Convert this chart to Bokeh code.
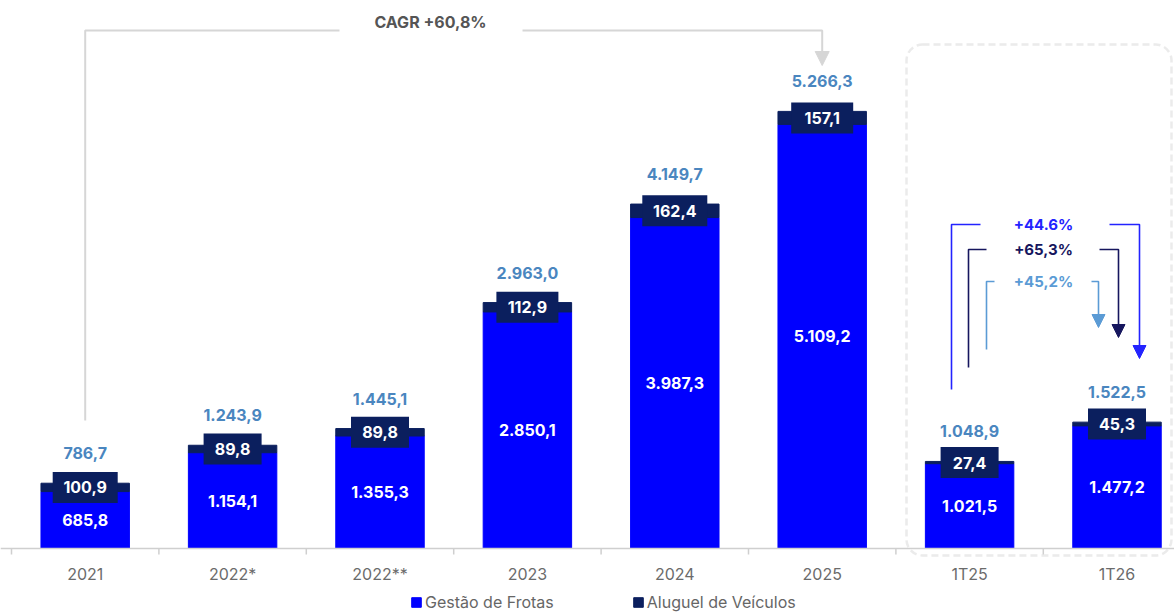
from bokeh.plotting import figure
from bokeh.models import (ColumnDataSource, Range1d, Legend, LegendItem, Span,
                          BoxAnnotation, Arrow, NormalHead)
from bokeh.embed import file_html
from bokeh.resources import INLINE
from bokeh.core.properties import value

# ---------------- data ----------------
categories = ["2021", "2022*", "2022**", "2023", "2024", "2025", "1T25", "1T26"]
gestao = [685.8, 1154.1, 1355.3, 2850.1, 3987.3, 5109.2, 1021.5, 1477.2]
aluguel = [100.9, 89.8, 89.8, 112.9, 162.4, 157.1, 27.4, 45.3]
totais = [786.7, 1243.9, 1445.1, 2963.0, 4149.7, 5266.3, 1048.9, 1522.5]
series_names = ["Gestão de Frotas", "Aluguel de Veículos"]
cagr_label = "CAGR +60,8%"
var_labels = ["+44.6%", "+65,3%", "+45,2%"]   # Gestão, Aluguel, Total (1T26 vs 1T25)

# ---------------- style ----------------
FONT = "Inter"
BLUE = "#0000ff"
NAVY = "#0b1f5e"
TOTAL_C = "#4a86bf"
GRAY_LINE = "#d6d6d6"
AXIS_C = "#cfcfcf"
VAR_COLORS = ["#2323ff", "#16165e", "#5b9bd5"]

def br(v):
    s = "{:,.1f}".format(v)
    return s.replace(",", "X").replace(".", ",").replace("X", ".")

def text_w(s):
    w = 0
    for ch in s:
        w += 7 if ch == "1" else (4 if ch in ",." else 10)
    return w + 24

n = len(categories)
xs = [i + 0.5 for i in range(n)]
src = ColumnDataSource(dict(
    x=xs, gestao=gestao, aluguel=aluguel, total=totais,
    zero=[0] * n,
    mid_g=[g / 2 for g in gestao],
    mid_a=[g + a / 2 for g, a in zip(gestao, aluguel)],
    g_lbl=[br(v) for v in gestao],
    a_lbl=[br(v) for v in aluguel],
    t_lbl=[br(v) for v in totais],
    cat=categories,
    box_w=[text_w(br(v)) for v in aluguel],
))

W, H = 1174, 612
STEP = 147.4          # px per category
PXU = 0.083           # px per data unit
X_LEFT = 11           # px position of category boundary 0
Y_BASE = 548          # px position of value 0

def dx(px):
    return (px - X_LEFT) / STEP

def dy(py):
    return (Y_BASE - py) / PXU

p = figure(width=W, height=H,
           x_range=Range1d(dx(0), dx(W)), y_range=Range1d(dy(H), dy(0)),
           output_backend="svg", toolbar_location=None,
           x_axis_location=None, y_axis_location=None,
           min_border_left=0, min_border_right=0, min_border_top=0, min_border_bottom=0)
p.outline_line_color = None
p.grid.visible = False
p.background_fill_color = "white"

# dashed rounded box around quarterly figures
p.add_layout(BoxAnnotation(left=dx(906), right=dx(1171), top=dy(44), bottom=dy(555),
                           fill_alpha=0, line_color="#bdbdbd", line_width=2.5,
                           line_dash="7 4", border_radius=16, level="underlay"))

# category axis (baseline, boundary ticks, labels)
p.add_layout(Span(location=0, dimension="width", line_color=AXIS_C, line_width=1.5))
bounds = list(range(n + 1))
p.segment(x0=bounds, y0=[0] * len(bounds), x1=bounds, y1=[dy(Y_BASE + 6)] * len(bounds),
          line_color=AXIS_C, line_width=1.5)
p.text(x="x", y="zero", text="cat", y_offset=25, text_align="center",
       text_baseline="middle", text_font=value(FONT), text_font_size="16px",
       text_color="#6b6b6b", source=src)

# stacked bars
rs = p.vbar_stack(["gestao", "aluguel"], x="x", width=0.6, color=[BLUE, NAVY], source=src)

# navy label boxes for Aluguel
p.rect(x="x", y="mid_a", width="box_w", height=31, width_units="screen",
       height_units="screen", fill_color=NAVY, line_color=None, source=src)

common = dict(text_align="center", text_baseline="middle", text_font=value(FONT),
              text_font_style="bold", text_font_size="16px")
p.text(x="x", y="mid_a", text="a_lbl", text_color="white", source=src, **common)
p.text(x="x", y="mid_g", text="g_lbl", text_color="white", source=src, **common)
p.text(x="x", y="total", text="t_lbl", text_color=TOTAL_C, y_offset=-30, source=src, **common)

# CAGR bracket
p.line([xs[0], xs[0], dx(339)], [dy(420), dy(30), dy(30)], line_color=GRAY_LINE, line_width=2)
p.line([dx(522), xs[5], xs[5]], [dy(30), dy(30), dy(52)], line_color=GRAY_LINE, line_width=2)
p.add_layout(Arrow(end=NormalHead(size=14, fill_color=GRAY_LINE, line_color=GRAY_LINE),
                   x_start=xs[5], y_start=dy(52), x_end=xs[5], y_end=dy(65),
                   line_color=GRAY_LINE, line_width=2))
p.text(x=[dx(430)], y=[dy(21)], text=[cagr_label], text_color="#555555",
       text_align="center", text_baseline="middle", text_font=value(FONT),
       text_font_style="bold", text_font_size="16px")

# quarterly variation brackets
brackets = [
    # left_x, bottom_y, top_y, left_end, right_start, right_x, tip_y
    (951, 389, 224, 980, 1109, 1139, 358),
    (968, 367, 249, 986, 1099, 1118, 337),
    (986, 349, 281, 994, 1091, 1098, 327),
]
for lbl, col, (lx, by, ty, le, rstart, rx, tip) in zip(var_labels, VAR_COLORS, brackets):
    p.line([dx(lx), dx(lx), dx(le)], [dy(by), dy(ty), dy(ty)], line_color=col, line_width=1.6)
    p.line([dx(rstart), dx(rx), dx(rx)], [dy(ty), dy(ty), dy(tip - 11)], line_color=col, line_width=1.6)
    p.add_layout(Arrow(end=NormalHead(size=13, fill_color=col, line_color=col),
                       x_start=dx(rx), y_start=dy(tip - 12), x_end=dx(rx), y_end=dy(tip),
                       line_color=col, line_width=1.6))
    p.text(x=[dx(1043)], y=[dy(ty)], text=[lbl], text_color=col, text_align="center",
           text_baseline="middle", text_font=value(FONT), text_font_style="bold",
           text_font_size="15px")

legend = Legend(items=[LegendItem(label=series_names[0], renderers=[rs[0]]),
                       LegendItem(label=series_names[1], renderers=[rs[1]])],
                location=(410, 0), orientation="horizontal", spacing=78,
                padding=0, margin=0, border_line_alpha=0, background_fill_alpha=0,
                label_text_font=FONT, label_text_font_size="16px",
                label_text_color="#666666", glyph_width=12, glyph_height=12,
                label_standoff=3)
p.add_layout(legend)

open("out.html", "w").write(file_html(p, INLINE))
